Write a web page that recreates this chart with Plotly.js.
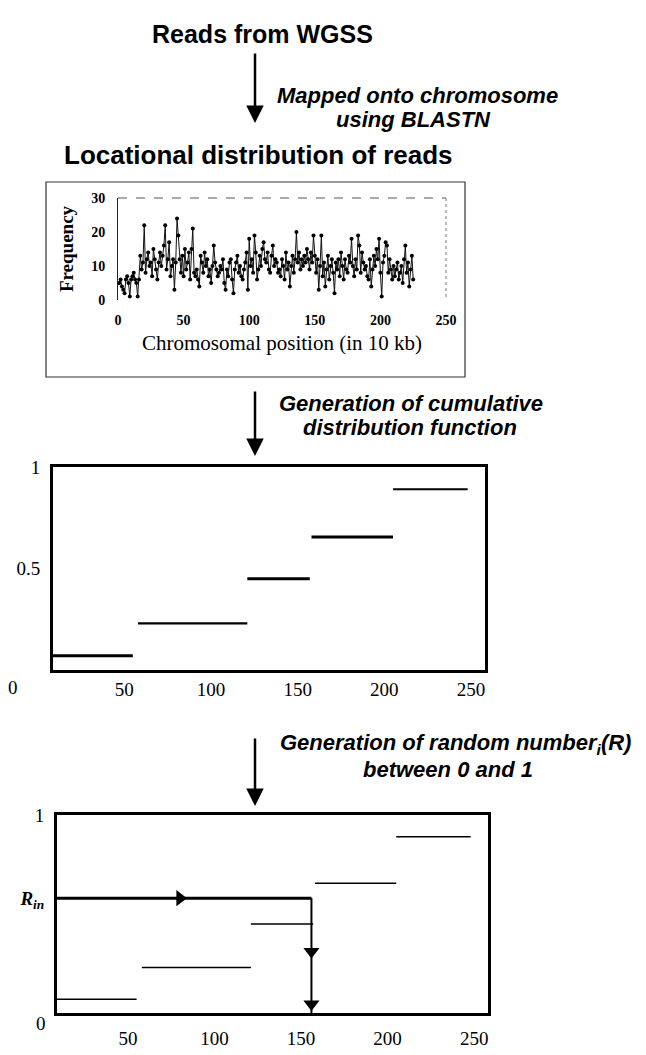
<!DOCTYPE html>
<html>
<head>
<meta charset="utf-8">
<script src="https://cdn.plot.ly/plotly-3.0.1.min.js"></script>
<style>html,body{margin:0;padding:0;background:#fff;}#chart{width:646px;height:1055px;}</style>
</head>
<body>
<div id="chart"></div>
<script>
// ---- data ----
const readFrequency = [
 5,6,4,3,2,6,7,5,1,6,
 7,8,6,5,1,6,13,9,11,22,
 8,12,14,10,11,7,15,12,9,6,
 11,14,10,13,16,22,9,12,17,7,
 10,12,3,11,24,19,12,8,13,7,
 15,9,11,14,6,15,21,8,7,9,
 6,4,13,11,8,14,10,12,7,9,
 5,10,16,11,9,7,8,10,9,12,
 5,3,9,7,11,12,6,2,9,11,
 13,8,10,7,6,9,11,14,3,18,
 10,12,8,19,14,6,9,13,10,15,
 17,12,11,14,9,8,13,16,10,12,
 11,8,9,7,12,10,6,14,9,11,
 4,10,13,8,12,20,11,14,9,12,
 10,13,11,15,12,9,14,11,19,13,
 8,12,3,10,19,7,11,4,9,13,
 6,10,12,8,2,11,9,12,7,14,
 10,6,12,9,8,13,11,18,10,7,
 12,9,19,16,8,14,11,9,10,7,
 6,12,4,9,13,10,15,12,18,8,
 1,11,13,17,16,8,12,9,6,10,
 7,9,11,6,8,10,5,12,16,8,
 11,4,9,13,6
];
const readPosition = readFrequency.map((_, i) => i + 1);
const topXTicks = [0, 50, 100, 150, 200, 250];
const topYTicks = [0, 10, 20, 30];

const stepStart = [9, 58, 121, 158, 205];
const stepEnd   = [55, 121, 157, 205, 248];
const cdfLevel  = [0.07, 0.23, 0.45, 0.655, 0.89];
const cdfXTicks = [50, 100, 150, 200, 250];
const cdfYTicks = [0.5, 1];
const cdfYText  = ['0.5', '1'];

const randomR   = 0.58;   // R_in
const selectedX = 156;    // position where R_in meets the CDF
const rightArrowX = 80;
const downArrowY  = [0.31, 0.045];

// ---- helpers (layout only) ----
const W = 646, H = 1055;
const px = v => v / W;
const py = v => 1 - v / H;

function stepTraces(xa, ya, widths) {
  const traces = [];
  for (let i = 0; i < cdfLevel.length; i++) {
    traces.push({
      x: [stepStart[i], stepEnd[i]], y: [cdfLevel[i], cdfLevel[i]],
      xaxis: xa, yaxis: ya, mode: 'lines', type: 'scatter',
      line: {color: '#000', width: widths[i]}, hoverinfo: 'skip', showlegend: false
    });
  }
  return traces;
}

const traces = [];
traces.push({
  x: readPosition, y: readFrequency, type: 'scatter', mode: 'lines+markers',
  xaxis: 'x', yaxis: 'y',
  line: {color: '#111', width: 1},
  marker: {color: '#000', size: 4},
  showlegend: false
});
traces.push(...stepTraces('x2', 'y2', [3, 2.2, 3, 3, 2]));
traces.push(...stepTraces('x3', 'y3', [1.5, 1.5, 1.5, 1.5, 1.5]));
traces.push({
  x: [stepStart[0], selectedX], y: [randomR, randomR], xaxis: 'x3', yaxis: 'y3',
  mode: 'lines', line: {color: '#000', width: 3}, showlegend: false, hoverinfo: 'skip'
});
traces.push({
  x: [selectedX, selectedX], y: [randomR, 0], xaxis: 'x3', yaxis: 'y3',
  mode: 'lines', line: {color: '#000', width: 2}, showlegend: false, hoverinfo: 'skip'
});
traces.push({
  x: [rightArrowX], y: [randomR], xaxis: 'x3', yaxis: 'y3', mode: 'markers',
  marker: {symbol: 'triangle-right', size: 14, color: '#000'}, showlegend: false, hoverinfo: 'skip'
});
traces.push({
  x: [selectedX, selectedX], y: downArrowY, xaxis: 'x3', yaxis: 'y3', mode: 'markers',
  marker: {symbol: 'triangle-down', size: 14, color: '#000'}, showlegend: false, hoverinfo: 'skip'
});

const serif = 'Liberation Serif, Times New Roman, serif';
const sans = 'Liberation Sans, Arial, sans-serif';

function label(text, x, y, size, family, extra) {
  return Object.assign({text: text, xref: 'paper', yref: 'paper', x: px(x), y: py(y),
    xanchor: 'center', yanchor: 'middle', showarrow: false,
    font: {family: family, size: size, color: '#000'}}, extra || {});
}
function flowArrow(x, yTop, yTip) {
  return {text: '', xref: 'paper', yref: 'paper', x: px(x), y: py(yTip), ax: 0, ay: -(yTip - yTop),
    showarrow: true, arrowhead: 2, arrowsize: 1.4, arrowwidth: 2.5, arrowcolor: '#000'};
}

const layout = {
  width: W, height: H,
  margin: {l: 0, r: 0, t: 0, b: 0},
  paper_bgcolor: '#fff', plot_bgcolor: 'rgba(0,0,0,0)',
  showlegend: false,
  xaxis: {
    domain: [px(118), px(446)], range: [0, 250], tickvals: topXTicks,
    showgrid: false, zeroline: false, showline: false, ticks: '',
    tickfont: {family: serif, size: 14, color: '#000', weight: 'bold'}, ticklabelstandoff: 10,
    title: {text: 'Chromosomal position (in 10 kb)', font: {family: serif, size: 21, color: '#000'}, standoff: 8},
    anchor: 'y', fixedrange: true
  },
  yaxis: {
    domain: [py(300), py(198)], range: [0, 30], tickvals: topYTicks,
    showgrid: false, zeroline: false, showline: true, linecolor: '#222', linewidth: 1, ticks: '',
    tickfont: {family: serif, size: 14, color: '#000', weight: 'bold'}, ticklabelstandoff: 9,
    title: {text: 'Frequency', font: {family: serif, size: 19, color: '#000', weight: 'bold'}, standoff: 12},
    anchor: 'x', fixedrange: true
  },
  xaxis2: {
    domain: [px(53), px(485)], range: [9, 258], tickvals: cdfXTicks,
    showgrid: false, zeroline: false, showline: true, mirror: true, linecolor: '#000', linewidth: 3, ticks: '',
    tickfont: {family: serif, size: 19, color: '#000'}, ticklabelstandoff: 0,
    anchor: 'y2', fixedrange: true
  },
  yaxis2: {
    domain: [py(670), py(467)], range: [0, 1], tickvals: cdfYTicks, ticktext: cdfYText,
    showgrid: false, zeroline: false, showline: true, mirror: true, linecolor: '#000', linewidth: 3, ticks: '',
    tickfont: {family: serif, size: 19, color: '#000'}, ticklabelstandoff: 6,
    anchor: 'x2', fixedrange: true
  },
  xaxis3: {
    domain: [px(57), px(488)], range: [9, 258], tickvals: cdfXTicks,
    showgrid: false, zeroline: false, showline: true, mirror: true, linecolor: '#000', linewidth: 3, ticks: '',
    tickfont: {family: serif, size: 19, color: '#000'}, ticklabelstandoff: 6,
    anchor: 'y3', fixedrange: true
  },
  yaxis3: {
    domain: [py(1013), py(815)], range: [0, 1], tickvals: [randomR, 1],
    ticktext: ['<b><i>R</i></b><b><i><sub>in</sub></i></b>', '1'],
    showgrid: false, zeroline: false, showline: true, mirror: true, linecolor: '#000', linewidth: 3, ticks: '',
    tickfont: {family: serif, size: 19, color: '#000'}, ticklabelstandoff: 6,
    anchor: 'x3', fixedrange: true
  },
  shapes: [
    {type: 'rect', xref: 'paper', yref: 'paper', x0: px(46), x1: px(465), y0: py(377), y1: py(182),
     line: {color: '#333', width: 1.2}},
    {type: 'line', xref: 'paper', yref: 'paper', x0: px(118), x1: px(446), y0: py(198), y1: py(198),
     line: {color: '#555', width: 1, dash: 'dash'}},
    {type: 'line', xref: 'paper', yref: 'paper', x0: px(446), x1: px(446), y0: py(198), y1: py(298),
     line: {color: '#777', width: 1, dash: 'dot'}}
  ],
  annotations: [
    label('<b>Reads from WGSS</b>', 262, 34, 25, sans),
    label('<b><i>Mapped onto chromosome</i></b>', 417, 95, 22, sans),
    label('<b><i>using BLASTN</i></b>', 413, 120, 22, sans),
    label('<b>Locational distribution of reads</b>', 258, 155, 26, sans),
    label('<b><i>Generation of cumulative</i></b>', 411, 403, 22, sans),
    label('<b><i>distribution function</i></b>', 410, 428, 22, sans),
    label('<b><i>Generation of random number<sub>i</sub>(R)</i></b>', 455, 744, 22, sans),
    label('<b><i>between 0 and 1</i></b>', 448, 769, 22, sans),
    flowArrow(255, 52, 123),
    flowArrow(255, 390, 456),
    flowArrow(255, 737, 806),
    label('0', 13, 687, 19, serif),
    label('0', 41, 1023, 19, serif)
  ]
};

Plotly.newPlot('chart', traces, layout, {staticPlot: true, displayModeBar: false});
</script>
</body>
</html>
